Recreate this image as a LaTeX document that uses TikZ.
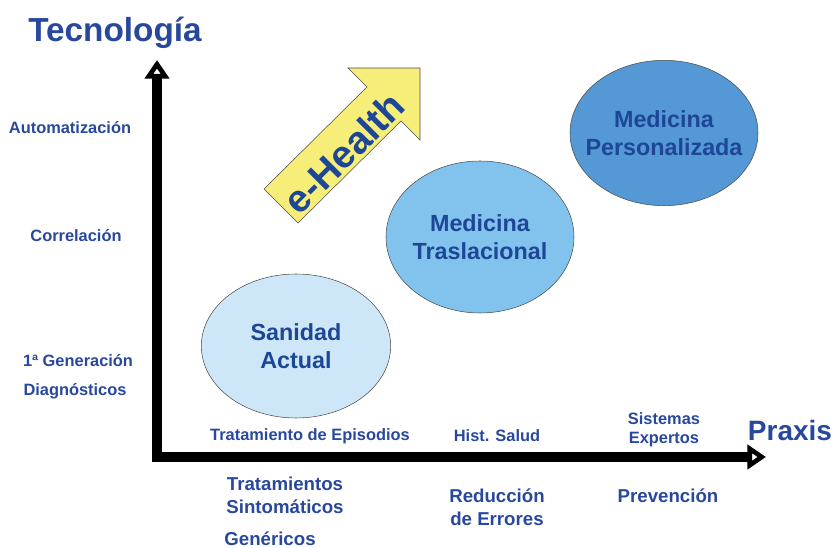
\documentclass[tikz,border=0pt]{standalone}
\usepackage{fontspec}
\setmainfont{Liberation Sans}
\usepackage{tikz}
\usetikzlibrary{shapes}
\usetikzlibrary{arrows.meta}
\usetikzlibrary{positioning}

\definecolor{textblue}{RGB}{40,72,158}
\definecolor{darkblue}{RGB}{30,70,150}
\definecolor{lightfill}{RGB}{205,231,249}
\definecolor{midfill}{RGB}{130,195,238}
\definecolor{deepfill}{RGB}{84,152,214}
\definecolor{yellowfill}{RGB}{247,238,122}

\begin{document}
\begin{tikzpicture}[x=0.75pt,y=-0.75pt]
\tikzstyle{label} = [text=textblue, font=\bfseries\fontsize{12.3}{14}\selectfont, align=center, inner sep=1pt]
\tikzstyle{biglabel} = [text=textblue, font=\bfseries\fontsize{14}{17}\selectfont, align=center, inner sep=1pt]
\tikzstyle{title} = [text=textblue, font=\bfseries\fontsize{25}{28}\selectfont, inner sep=0pt]
\tikzstyle{stage} = [ellipse, draw=black!70, thin, text=darkblue,
font=\bfseries\fontsize{17.5}{21}\selectfont, align=center, inner sep=-18pt]
\tikzstyle{axis} = [line width=7.5pt, line join=miter,
{Triangle[open,length=14pt,width=18pt,line width=3.5pt]}-{Triangle[open,length=14pt,width=18pt,line width=3.5pt]}]
\useasboundingbox (0,0) rectangle (833,548);

% axes
\coordinate (origin) at (157,457);
\coordinate (ytop) at (157,60);
\coordinate (xend) at (766,457);
\draw[axis] (ytop) -- (origin) -- (xend);

% titles
\node[title] (tecno) at (115,33) {Tecnología};
\node[title, font=\bfseries\fontsize{21}{24}\selectfont] (praxis) at (790,430) {Praxis};

% e-Health arrow
\filldraw[fill=yellowfill, draw=black!70, thin]
(264,189) -- (367,87) -- (348,68) -- (420,68) -- (420,140) -- (401,121) -- (298,223) -- cycle;
\node[rotate=45, text=darkblue, font=\bfseries\fontsize{29}{30}\selectfont] (ehealth) at (344,153) {e-Health};

% stages
\node[stage, fill=lightfill, minimum width=142pt, minimum height=108pt] (sanidad) at (296,346) {Sanidad\\Actual};
\node[stage, fill=midfill, minimum width=141pt, minimum height=114pt] (traslacional) at (480,237) {Medicina\\Traslacional};
\node[stage, fill=deepfill, minimum width=141pt, minimum height=109pt] (personalizada) at (664,133) {Medicina\\Personalizada};

% technology levels
\node[label] (auto) at (70,128) {Automatización};
\node[label] (correl) at (76,236) {Correlación};
\node[label] (gen) at (78,361) {1ª Generación};
\node[label] (diag) at (75,391) {Diagnósticos};

% praxis levels
\node[label] (episodios) at (310,436) {Tratamiento de Episodios};
\node[label] (hist) at (497,436) {Hist. Salud};
\node[label] (sistemas) at (664,430) {Sistemas\\Expertos};
\node[biglabel] (sintom) at (285,495) {Tratamientos\\Sintomáticos};
\node[biglabel, anchor=base] (genericos) at (270,546) {Genéricos};
\node[biglabel] (reduccion) at (497,507) {Reducción\\de Errores};
\node[biglabel] (prevencion) at (668,496) {Prevención};
\end{tikzpicture}
\end{document}
